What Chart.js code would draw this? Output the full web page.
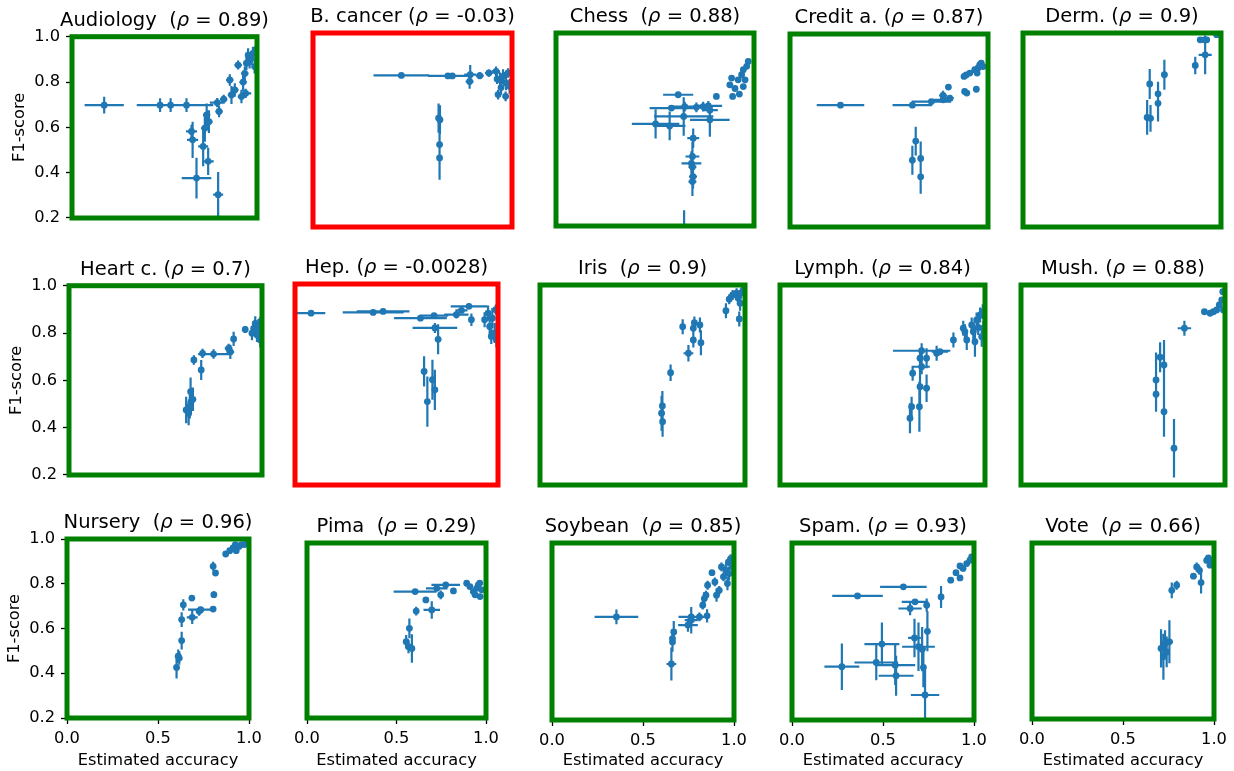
<!DOCTYPE html>
<html>
<head>
<meta charset="utf-8">
<script src="https://cdn.jsdelivr.net/npm/chart.js@4.4.1/dist/chart.umd.min.js"></script>
<style>
  html, body { margin: 0; padding: 0; background: #fff; }
  #fig { position: relative; width: 1234px; height: 771px; overflow: hidden; background: #fff; }
  #fig canvas { position: absolute; left: 0; top: 0; }
</style>
</head>
<body>
<div id="fig"></div>
<script>
// ---- data: each point is [estimated accuracy, F1-score, x error, y error] ----
const AUDIOLOGY = [
  [0.174,0.698,0.106,0.037],[0.476,0.698,0.126,0.03],[0.533,0.698,0.05,0.03],[0.619,0.698,0.145,0.03],
  [0.785,0.709,0.04,0.02],[0.795,0.670,0.02,0.025],[0.646,0.582,0.03,0.03],[0.652,0.545,0.03,0.08],
  [0.709,0.516,0.027,0.088],[0.718,0.596,0.02,0.06],[0.728,0.655,0.02,0.05],[0.740,0.625,0.02,0.05],
  [0.736,0.450,0.03,0.06],[0.673,0.376,0.08,0.09],[0.790,0.303,0.027,0.1],[0.820,0.724,0.02,0.02],
  [0.853,0.809,0.02,0.025],[0.862,0.743,0.02,0.04],[0.880,0.765,0.02,0.03],[0.898,0.875,0.02,0.02],
  [0.916,0.736,0.02,0.03],[0.925,0.800,0.02,0.04],[0.939,0.750,0.03,0.02],[0.934,0.838,0.02,0.03],
  [0.943,0.883,0.015,0.03],[0.952,0.919,0.015,0.03],[0.960,0.890,0.015,0.03],[0.970,0.905,0.015,0.03],
  [0.978,0.926,0.01,0.03],[0.987,0.868,0.01,0.03],[0.993,0.941,0.01,0.02]
];
const B_CANCER = [
  [0.444,0.825,0.14,0.008],[0.678,0.823,0.1,0.01],[0.700,0.823,0.06,0.01],[0.790,0.828,0.03,0.04],
  [0.787,0.800,0.02,0.03],[0.838,0.824,0.02,0.015],[0.884,0.835,0.02,0.015],[0.920,0.842,0.02,0.02],
  [0.940,0.807,0.02,0.03],[0.955,0.821,0.02,0.03],[0.970,0.794,0.02,0.03],[0.930,0.746,0.01,0.02],
  [0.968,0.739,0.01,0.02],[0.980,0.835,0.02,0.02],[0.988,0.780,0.01,0.03],[0.945,0.775,0.01,0.03],
  [0.925,0.810,0.015,0.02],[0.631,0.649,0.01,0.06],[0.638,0.642,0.01,0.06],[0.636,0.540,0.01,0.07],
  [0.636,0.485,0.01,0.09]
];
const CHESS = [
  [0.971,0.882,0.01,0.01],[0.963,0.862,0.01,0.01],[0.946,0.848,0.01,0.01],[0.9375,0.827,0.01,0.01],
  [0.920,0.806,0.01,0.01],[0.955,0.806,0.01,0.01],[0.887,0.813,0.01,0.01],[0.878,0.785,0.01,0.01],
  [0.904,0.770,0.01,0.01],[0.946,0.778,0.01,0.01],[0.926,0.747,0.01,0.01],[0.892,0.737,0.01,0.01],
  [0.810,0.737,0.01,0.01],[0.617,0.744,0.076,0.01],[0.583,0.689,0.11,0.01],[0.650,0.695,0.08,0.02],
  [0.709,0.692,0.06,0.02],[0.743,0.695,0.05,0.02],[0.769,0.698,0.07,0.02],[0.777,0.680,0.04,0.03],
  [0.645,0.654,0.15,0.08],[0.503,0.623,0.12,0.06],[0.574,0.615,0.08,0.06],[0.777,0.640,0.1,0.07],
  [0.693,0.564,0.03,0.04],[0.689,0.488,0.035,0.06],[0.684,0.460,0.05,0.05],[0.689,0.445,0.02,0.06],
  [0.692,0.405,0.02,0.05],[0.689,0.384,0.02,0.06],[0.647,0.160,0.01,0.105]
];
const CREDIT_A = [
  [0.255,0.705,0.12,0.005],[0.618,0.705,0.1,0.005],[0.714,0.720,0.1,0.01],[0.773,0.727,0.05,0.01],
  [0.773,0.745,0.02,0.02],[0.807,0.734,0.02,0.01],[0.800,0.780,0.01,0.01],[0.879,0.824,0.01,0.01],
  [0.890,0.830,0.01,0.01],[0.882,0.762,0.01,0.01],[0.893,0.755,0.01,0.01],[0.941,0.771,0.01,0.01],
  [0.908,0.838,0.01,0.01],[0.933,0.852,0.01,0.01],[0.950,0.859,0.01,0.01],[0.958,0.872,0.01,0.01],
  [0.966,0.879,0.01,0.01],[0.975,0.865,0.01,0.01],[0.945,0.838,0.01,0.01],[0.635,0.556,0.01,0.06],
  [0.618,0.477,0.01,0.06],[0.660,0.484,0.01,0.07],[0.660,0.408,0.01,0.07]
];
const DERM = [
  [0.640,0.790,0.01,0.062],[0.682,0.749,0.01,0.05],[0.682,0.710,0.01,0.075],[0.714,0.828,0.015,0.062],
  [0.627,0.652,0.015,0.072],[0.644,0.648,0.015,0.055],[0.870,0.866,0.01,0.036],[0.920,0.910,0.033,0.08],
  [0.895,0.972,0.01,0.01],[0.915,0.972,0.01,0.01],[0.928,0.972,0.01,0.01],[0.978,0.993,0.01,0.01]
];
const HEART_C = [
  [0.607,0.475,0.01,0.056],[0.620,0.460,0.01,0.05],[0.626,0.489,0.01,0.05],[0.632,0.510,0.01,0.05],
  [0.642,0.520,0.01,0.05],[0.630,0.552,0.01,0.06],[0.647,0.686,0.01,0.02],[0.685,0.644,0.01,0.042],
  [0.692,0.714,0.015,0.02],[0.749,0.711,0.08,0.02],[0.827,0.735,0.02,0.02],[0.836,0.720,0.02,0.03],
  [0.853,0.775,0.01,0.03],[0.913,0.815,0.015,0.015],[0.948,0.799,0.01,0.03],[0.957,0.820,0.01,0.03],
  [0.965,0.841,0.01,0.03],[0.974,0.792,0.01,0.03],[0.983,0.827,0.01,0.03],[0.991,0.848,0.01,0.02],
  [0.991,0.770,0.01,0.03],[0.970,0.810,0.01,0.03]
];
const HEP = [
  [0.079,0.884,0.07,0.008],[0.385,0.887,0.15,0.008],[0.434,0.891,0.13,0.008],[0.618,0.864,0.13,0.01],
  [0.685,0.874,0.07,0.01],[0.689,0.825,0.11,0.02],[0.705,0.780,0.015,0.06],[0.795,0.878,0.06,0.015],
  [0.820,0.895,0.03,0.01],[0.857,0.911,0.09,0.01],[0.869,0.858,0.01,0.025],[0.934,0.858,0.01,0.03],
  [0.951,0.884,0.01,0.03],[0.959,0.831,0.01,0.04],[0.972,0.864,0.01,0.04],[0.984,0.805,0.01,0.04],
  [0.989,0.898,0.01,0.02],[0.967,0.791,0.01,0.03],[0.992,0.778,0.01,0.03],[0.636,0.652,0.01,0.06],
  [0.652,0.532,0.01,0.1],[0.677,0.619,0.01,0.08],[0.689,0.579,0.01,0.08]
];
const IRIS = [
  [0.593,0.487,0.008,0.07],[0.597,0.516,0.008,0.06],[0.598,0.453,0.008,0.06],[0.637,0.649,0.012,0.033],
  [0.724,0.727,0.024,0.033],[0.696,0.833,0.01,0.03],[0.748,0.827,0.01,0.03],[0.753,0.849,0.01,0.025],
  [0.748,0.780,0.01,0.03],[0.780,0.840,0.01,0.03],[0.785,0.769,0.01,0.05],[0.907,0.897,0.01,0.03],
  [0.923,0.943,0.01,0.02],[0.940,0.960,0.01,0.02],[0.959,0.967,0.01,0.02],[0.967,0.947,0.01,0.02],
  [0.976,0.927,0.01,0.03],[0.972,0.864,0.01,0.03],[0.980,0.967,0.01,0.02],[0.992,0.980,0.01,0.02]
];
const LYMPH = [
  [0.634,0.467,0.01,0.06],[0.642,0.513,0.01,0.04],[0.647,0.647,0.01,0.03],[0.680,0.513,0.01,0.1],
  [0.683,0.593,0.01,0.08],[0.715,0.587,0.015,0.055],[0.683,0.707,0.01,0.04],[0.691,0.673,0.04,0.03],
  [0.715,0.707,0.01,0.04],[0.691,0.737,0.14,0.03],[0.764,0.727,0.01,0.03],[0.780,0.733,0.04,0.01],
  [0.846,0.780,0.01,0.03],[0.894,0.827,0.01,0.03],[0.902,0.813,0.01,0.03],[0.911,0.780,0.01,0.04],
  [0.935,0.840,0.01,0.03],[0.943,0.813,0.01,0.03],[0.951,0.773,0.01,0.06],[0.959,0.860,0.01,0.03],
  [0.967,0.830,0.01,0.03],[0.976,0.880,0.01,0.03],[0.984,0.793,0.01,0.04],[0.989,0.893,0.01,0.03],
  [0.992,0.827,0.01,0.03]
];
const MUSH = [
  [0.801,0.827,0.033,0.03],[0.682,0.711,0.01,0.06],[0.701,0.680,0.01,0.1],[0.701,0.493,0.01,0.1],
  [0.662,0.620,0.01,0.11],[0.662,0.563,0.01,0.07],[0.750,0.347,0.01,0.117],[0.899,0.893,0.01,0.01],
  [0.927,0.887,0.01,0.01],[0.943,0.893,0.01,0.01],[0.959,0.900,0.01,0.01],[0.972,0.920,0.01,0.01],
  [0.984,0.940,0.01,0.01],[0.989,0.973,0.01,0.01],[0.992,0.900,0.01,0.01]
];
const NURSERY = [
  [0.602,0.426,0.008,0.05],[0.611,0.476,0.008,0.03],[0.617,0.468,0.008,0.03],[0.630,0.546,0.01,0.04],
  [0.630,0.640,0.01,0.033],[0.639,0.706,0.01,0.025],[0.686,0.736,0.01,0.01],[0.688,0.650,0.03,0.03],
  [0.726,0.677,0.01,0.02],[0.735,0.684,0.07,0.01],[0.803,0.687,0.01,0.01],[0.807,0.751,0.01,0.015],
  [0.803,0.878,0.01,0.02],[0.816,0.848,0.01,0.01],[0.872,0.933,0.01,0.01],[0.894,0.948,0.01,0.01],
  [0.912,0.960,0.01,0.01],[0.930,0.948,0.01,0.01],[0.945,0.967,0.01,0.01],[0.958,0.975,0.01,0.01],
  [0.976,0.975,0.01,0.01],[0.989,0.982,0.01,0.01],[0.925,0.975,0.01,0.01]
];
const PIMA = [
  [0.554,0.549,0.01,0.03],[0.567,0.526,0.01,0.03],[0.572,0.610,0.01,0.045],[0.586,0.518,0.01,0.065],
  [0.610,0.689,0.01,0.02],[0.664,0.740,0.01,0.01],[0.697,0.694,0.046,0.04],[0.747,0.763,0.01,0.02],
  [0.604,0.778,0.12,0.01],[0.725,0.793,0.06,0.01],[0.775,0.809,0.08,0.01],[0.818,0.781,0.01,0.01],
  [0.892,0.816,0.01,0.01],[0.910,0.801,0.01,0.01],[0.929,0.778,0.01,0.01],[0.939,0.763,0.01,0.01],
  [0.948,0.793,0.01,0.01],[0.957,0.809,0.01,0.01],[0.967,0.755,0.01,0.01],[0.976,0.786,0.01,0.01],
  [0.965,0.817,0.01,0.01]
];
const SOYBEAN = [
  [0.354,0.666,0.12,0.033],[0.656,0.453,0.027,0.075],[0.662,0.553,0.01,0.045],[0.662,0.568,0.01,0.04],
  [0.669,0.598,0.01,0.05],[0.747,0.629,0.054,0.03],[0.765,0.651,0.036,0.06],[0.765,0.666,0.07,0.02],
  [0.810,0.666,0.01,0.02],[0.852,0.671,0.01,0.03],[0.828,0.719,0.01,0.02],[0.837,0.749,0.01,0.03],
  [0.846,0.764,0.01,0.02],[0.855,0.809,0.01,0.02],[0.879,0.866,0.01,0.01],[0.895,0.824,0.01,0.02],
  [0.904,0.764,0.01,0.03],[0.919,0.786,0.01,0.02],[0.931,0.892,0.01,0.02],[0.942,0.847,0.01,0.02],
  [0.955,0.877,0.01,0.03],[0.964,0.817,0.01,0.03],[0.969,0.914,0.01,0.02],[0.973,0.862,0.01,0.03],
  [0.982,0.929,0.01,0.02],[0.991,0.892,0.01,0.03]
];
const SPAM = [
  [0.360,0.761,0.139,0.01],[0.612,0.802,0.128,0.01],[0.676,0.734,0.073,0.01],[0.649,0.704,0.064,0.03],
  [0.740,0.719,0.01,0.03],[0.819,0.756,0.015,0.05],[0.744,0.601,0.015,0.09],[0.673,0.571,0.035,0.087],
  [0.695,0.531,0.09,0.11],[0.715,0.520,0.02,0.1],[0.494,0.543,0.096,0.098],[0.463,0.460,0.12,0.08],
  [0.567,0.448,0.11,0.09],[0.572,0.400,0.096,0.09],[0.274,0.441,0.096,0.105],[0.722,0.438,0.01,0.09],
  [0.731,0.313,0.078,0.12],[0.872,0.832,0.01,0.01],[0.901,0.866,0.01,0.01],[0.923,0.842,0.01,0.01],
  [0.923,0.896,0.01,0.01],[0.940,0.885,0.01,0.01],[0.960,0.907,0.01,0.01],[0.978,0.922,0.01,0.01],
  [0.987,0.937,0.01,0.01]
];
const VOTE = [
  [0.709,0.521,0.01,0.087],[0.722,0.483,0.01,0.105],[0.731,0.543,0.01,0.06],[0.740,0.505,0.01,0.07],
  [0.755,0.551,0.02,0.098],[0.768,0.785,0.01,0.036],[0.795,0.808,0.015,0.02],[0.887,0.849,0.01,0.01],
  [0.905,0.891,0.01,0.02],[0.920,0.876,0.01,0.02],[0.929,0.820,0.01,0.05],[0.960,0.921,0.01,0.01],
  [0.969,0.932,0.01,0.01],[0.978,0.899,0.01,0.01],[0.991,0.921,0.01,0.01]
];

// panel titles and Spearman correlation shown in each title
const NAMES = ['Audiology  ', 'B. cancer ', 'Chess  ', 'Credit a. ', 'Derm. ',
               'Heart c. ', 'Hep. ', 'Iris  ', 'Lymph. ', 'Mush. ',
               'Nursery  ', 'Pima  ', 'Soybean  ', 'Spam. ', 'Vote  '];
const RHO = [0.89, -0.03, 0.88, 0.87, 0.9, 0.7, -0.0028, 0.9, 0.84, 0.88, 0.96, 0.29, 0.85, 0.93, 0.66];
const SERIES = [AUDIOLOGY, B_CANCER, CHESS, CREDIT_A, DERM, HEART_C, HEP, IRIS, LYMPH, MUSH,
                NURSERY, PIMA, SOYBEAN, SPAM, VOTE];
const X_TICKS = [0.0, 0.5, 1.0];
const Y_TICKS = [0.2, 0.4, 0.6, 0.8, 1.0];
const X_LABEL = 'Estimated accuracy';
const Y_LABEL = 'F1-score';

// ---- layout: plot-area rectangle of every panel [left, top, right, bottom] in page pixels ----
const W = 1234, H = 771;
const BOXES = [
  [72, 36.7, 257, 218], [313, 33, 512, 227], [556, 33, 754, 226], [790, 34, 988, 227], [1023, 33, 1221, 227],
  [69, 285.7, 262, 475], [295, 284, 498, 485], [540, 285, 745, 485], [780, 285, 985, 485], [1021, 285, 1225, 485],
  [67, 539, 249, 718], [307, 543, 486, 718], [552, 543, 734, 720], [792, 543, 974, 720], [1032, 543, 1214, 719]
];
const COLS = 5;
const BLUE = '#1f77b4';
const FONT = "'DejaVu Sans', sans-serif";
const TICK_SIZE = 16.25, TITLE_SIZE = 19.5;
const Y_AXIS_W = 62;

Chart.defaults.font.family = FONT;
Chart.defaults.font.size = TICK_SIZE;
Chart.defaults.color = '#000';

// error bars, drawn under the markers and clipped to the plot area
const errorBars = {
  id: 'errorBars',
  beforeDatasetsDraw(chart) {
    const { ctx, chartArea: a, scales: { x, y } } = chart;
    ctx.save();
    ctx.beginPath();
    ctx.rect(a.left, a.top, a.right - a.left, a.bottom - a.top);
    ctx.clip();
    ctx.strokeStyle = BLUE;
    ctx.lineWidth = 2.2;
    ctx.beginPath();
    for (const p of chart.data.datasets[0].data) {
      const px = x.getPixelForValue(p.x), py = y.getPixelForValue(p.y);
      ctx.moveTo(x.getPixelForValue(p.x - p.xe), py);
      ctx.lineTo(x.getPixelForValue(p.x + p.xe), py);
      ctx.moveTo(px, y.getPixelForValue(p.y - p.ye));
      ctx.lineTo(px, y.getPixelForValue(p.y + p.ye));
    }
    ctx.stroke();
    ctx.restore();
  }
};

// thick coloured frame: green for positive correlation, red otherwise
const frame = {
  id: 'frame',
  afterDatasetsDraw(chart, args, opts) {
    const { ctx, chartArea: a } = chart;
    ctx.save();
    ctx.strokeStyle = opts.color;
    ctx.lineWidth = 5;
    ctx.strokeRect(a.left, a.top, a.right - a.left, a.bottom - a.top);
    ctx.restore();
  }
};

// panel title "Name (ρ = value)" with an italic rho
const panelTitle = {
  id: 'panelTitle',
  afterDraw(chart, args, opts) {
    const { ctx, chartArea: a } = chart;
    const normal = TITLE_SIZE + 'px ' + FONT;
    const italic = 'italic ' + TITLE_SIZE + 'px ' + FONT;
    const parts = [[opts.name + '(', normal], ['\u03C1', italic], [' = ' + String(opts.rho) + ')', normal]];
    ctx.save();
    let total = 0;
    for (const [t, f] of parts) { ctx.font = f; total += ctx.measureText(t).width; }
    let x = (a.left + a.right) / 2 - total / 2;
    const yBase = a.top - 11;
    ctx.fillStyle = '#000';
    ctx.textBaseline = 'alphabetic';
    ctx.textAlign = 'left';
    for (const [t, f] of parts) {
      ctx.font = f;
      ctx.fillText(t, x, yBase);
      x += ctx.measureText(t).width;
    }
    ctx.restore();
  }
};

const fig = document.getElementById('fig');

SERIES.forEach((rows, i) => {
  const [left, top, right, bottom] = BOXES[i];
  const firstCol = i % COLS === 0;
  const lastRow = i >= SERIES.length - COLS;
  const canvas = document.createElement('canvas');
  canvas.width = W; canvas.height = H;
  canvas.style.width = W + 'px'; canvas.style.height = H + 'px';
  fig.appendChild(canvas);

  const points = rows.map(r => ({ x: r[0], y: r[1], xe: r[2], ye: r[3] }));
  const tickGrid = { display: true, drawOnChartArea: false, drawTicks: true, tickLength: 6, tickWidth: 1.3, tickColor: '#000' };

  new Chart(canvas, {
    type: 'scatter',
    data: { datasets: [{ data: points, backgroundColor: BLUE, borderWidth: 0, pointRadius: 3.4, pointHoverRadius: 3.4, clip: 0 }] },
    plugins: [errorBars, frame, panelTitle],
    options: {
      responsive: false,
      animation: false,
      events: [],
      devicePixelRatio: 1,
      layout: {
        padding: {
          left: left - (firstCol ? Y_AXIS_W : 0),
          top: top,
          right: W - right,
          bottom: lastRow ? 0 : H - bottom
        }
      },
      scales: {
        x: {
          type: 'linear', min: 0, max: 1, display: lastRow,
          afterBuildTicks: s => { s.ticks = X_TICKS.map(v => ({ value: v })); },
          afterFit: s => { s.height = lastRow ? H - bottom : 0; },
          ticks: { padding: 5, maxRotation: 0, autoSkip: false, callback: v => Number(v).toFixed(1) },
          grid: tickGrid,
          border: { display: false },
          title: { display: true, text: X_LABEL, padding: 0, font: { size: TICK_SIZE } }
        },
        y: {
          type: 'linear', min: 0.2, max: 1, display: firstCol,
          afterBuildTicks: s => { s.ticks = Y_TICKS.map(v => ({ value: v })); },
          afterFit: s => { s.width = firstCol ? Y_AXIS_W : 0; },
          ticks: { padding: 6, autoSkip: false, callback: v => Number(v).toFixed(1) },
          grid: tickGrid,
          border: { display: false },
          title: { display: true, text: Y_LABEL, padding: 0, font: { size: TICK_SIZE } }
        }
      },
      plugins: {
        legend: { display: false },
        tooltip: { enabled: false },
        frame: { color: RHO[i] > 0 ? '#008000' : '#ff0000' },
        panelTitle: { name: NAMES[i], rho: RHO[i] }
      }
    }
  });
});
</script>
</body>
</html>
